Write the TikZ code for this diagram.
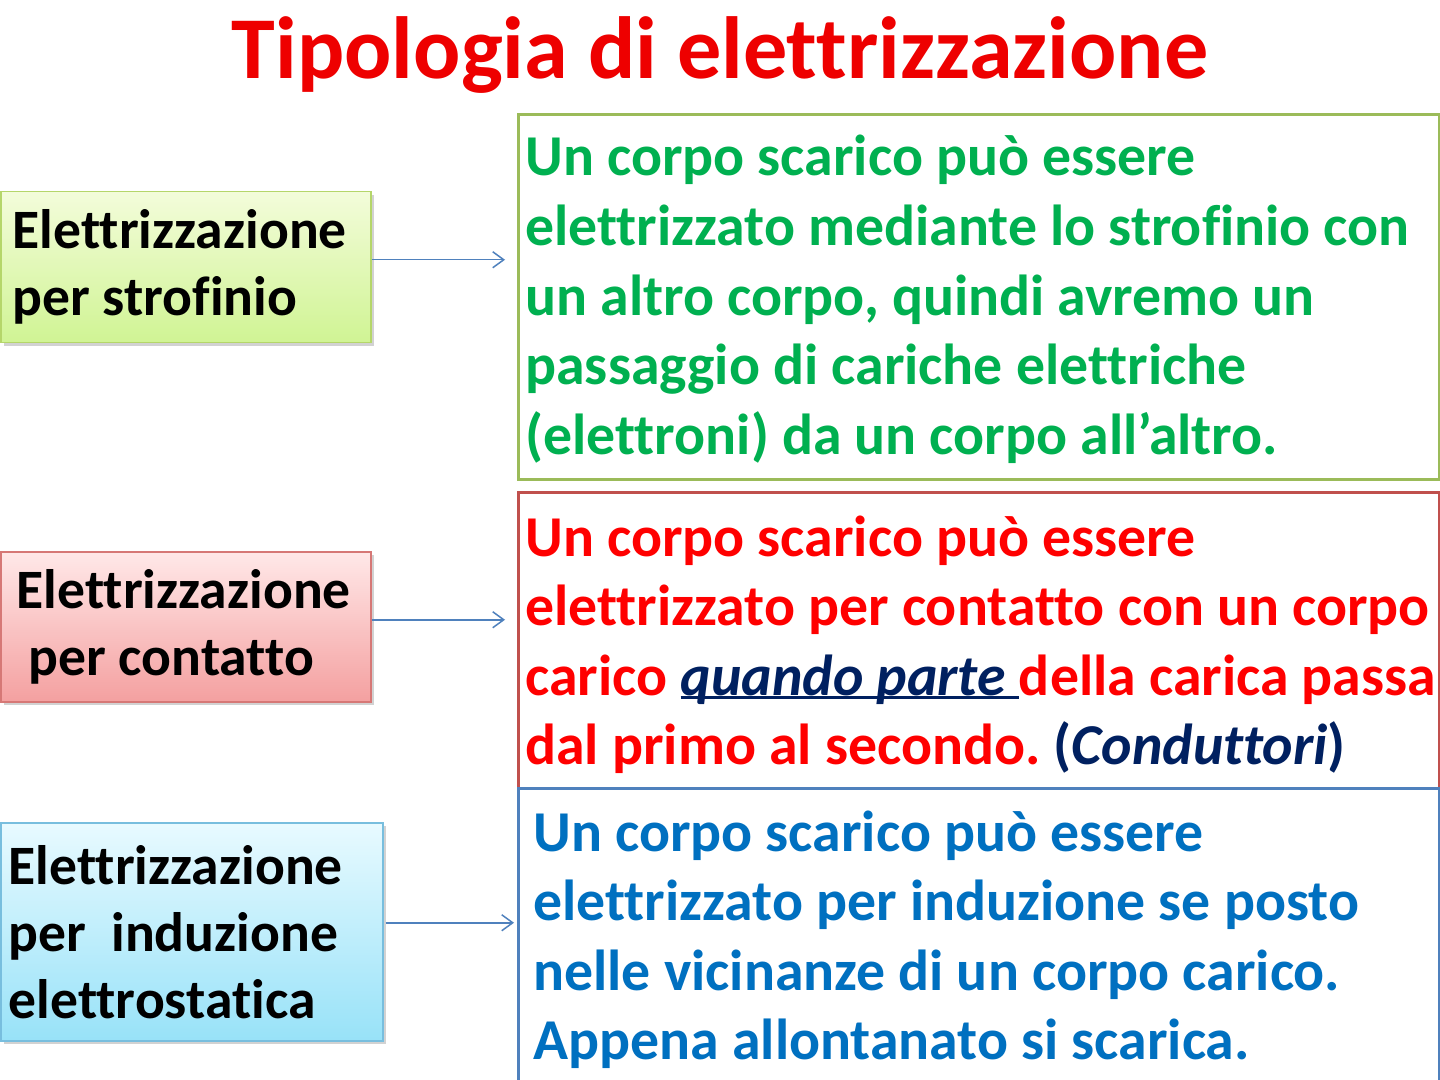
\documentclass[tikz,border=0pt]{standalone}
\usepackage{fontspec}
\setmainfont{Carlito}[Ligatures=NoCommon]
\usetikzlibrary{shadows,arrows.meta}
\frenchspacing
\newsavebox{\sottobox}
\newcommand{\sottolinea}[1]{\sbox{\sottobox}{#1}\rlap{\rule[-2pt]{\wd\sottobox}{1.5pt}}\usebox{\sottobox}}
\definecolor{titlered}{RGB}{238,0,0}
\definecolor{txtgreen}{RGB}{0,176,80}
\definecolor{txtred}{RGB}{255,0,0}
\definecolor{txtblue}{RGB}{0,112,192}
\definecolor{navy}{RGB}{0,32,96}
\definecolor{edgegreen}{RGB}{155,187,89}
\definecolor{edgered}{RGB}{192,80,77}
\definecolor{edgeblue}{RGB}{79,129,189}
\definecolor{arrowblue}{RGB}{79,129,189}
\tikzset{
	tipobox/.style={draw, rectangle, anchor=north west, inner ysep=0pt, align=left,
		line width=0.75pt, drop shadow={opacity=0.35, shadow xshift=1.5pt, shadow yshift=-1.5pt},
		execute at begin node={\spaceskip=0pt\xspaceskip=0pt},
		font=\fontsize{27.8}{33.5}\selectfont\bfseries},
	descbox/.style={draw, rectangle, anchor=north west, line width=1.5pt, inner sep=0pt, minimum width=460.5pt},
	desctext/.style={anchor=base west, align=left, inner sep=0pt, font=\fontsize{28.9}{34.75}\selectfont\bfseries},
	conn/.style={draw=arrowblue, line width=0.75pt, -{Straight Barb[length=5.5pt,width=8pt]}}
}
\begin{document}
\begin{tikzpicture}[x=0.5pt,y=-0.5pt]
	\clip (0,0) rectangle (1440,1080);
	\fill[white] (0,0) rectangle (1440,1080);
	% titolo
	\node[anchor=base, inner sep=0pt, text=titlered, font=\fontsize{44.1}{50}\selectfont\bfseries] (title) at (720,79) {Tipologia di elettrizzazione};
	% riquadri a sinistra
	\node[tipobox, draw={rgb,255:red,181;green,214;blue,106}, top color={rgb,255:red,243;green,252;blue,218}, bottom color={rgb,255:red,208;green,244;blue,148},
		inner xsep=6pt, text width=173pt, minimum height=75.5pt] (strof) at (0,191) {Elettrizzazione\\per strofinio};
	\node[tipobox, draw={rgb,255:red,214;green,120;blue,118}, top color={rgb,255:red,255;green,232;blue,232}, bottom color={rgb,255:red,244;green,160;blue,160},
		inner xsep=8pt, text width=169pt, minimum height=75pt] (cont) at (0,551) {Elettrizzazione\\\hspace*{6pt}per contatto};
	\node[tipobox, draw={rgb,255:red,120;green,190;blue,222}, top color={rgb,255:red,232;green,250;blue,255}, bottom color={rgb,255:red,152;green,226;blue,248},
		inner xsep=4pt, text width=183pt, minimum height=109pt] (indu) at (0,822) {Elettrizzazione\\per\ \ induzione\\elettrostatica};
	% riquadri a destra
	\node[descbox, draw=edgegreen, minimum height=182.5pt] (d1) at (517,113) {};
	\node[descbox, draw=edgered, minimum height=148pt] (d2) at (517,491) {};
	\node[descbox, draw=edgeblue, minimum height=152.5pt] (d3) at (517,787) {};
	% testi (ancorati all'ultima riga)
	\node[desctext, text=txtgreen] (t1) at ([xshift=4pt,yshift=-170.5pt]d1.north west) {Un corpo scarico può essere\\elettrizzato mediante lo strofinio con\\un altro corpo, quindi avremo un\\passaggio di cariche elettriche\\(elettroni) da un corpo all’altro.};
	\node[desctext, text=txtred] (t2) at ([xshift=4pt,yshift=-136.75pt]d2.north west) {Un corpo scarico può essere\\elettrizzato per contatto con un corpo\\carico \textcolor{navy}{\sottolinea{\textit{quando parte}\ }}della carica passa\\dal primo al secondo. \textcolor{navy}{(\textit{Conduttori})}};
	\node[desctext, text=txtblue] (t3) at ([xshift=8pt,yshift=-136.25pt]d3.north west) {Un corpo scarico può essere\\elettrizzato per induzione se posto\\nelle vicinanze di un corpo carico.\\Appena allontanato si scarica.};
	% frecce
	\draw[conn, shorten >=6pt] ([yshift=3.75pt]strof.east) -- ([yshift=3.75pt]strof.east -| d1.west);
	\draw[conn, shorten >=6pt] ([yshift=3.5pt]cont.east) -- ([yshift=3.5pt]cont.east -| d2.west);
	\draw[conn, shorten >=1.5pt, shorten <=1pt] ([yshift=4.5pt]indu.east) -- ([yshift=4.5pt]indu.east -| d3.west);
\end{tikzpicture}
\end{document}
